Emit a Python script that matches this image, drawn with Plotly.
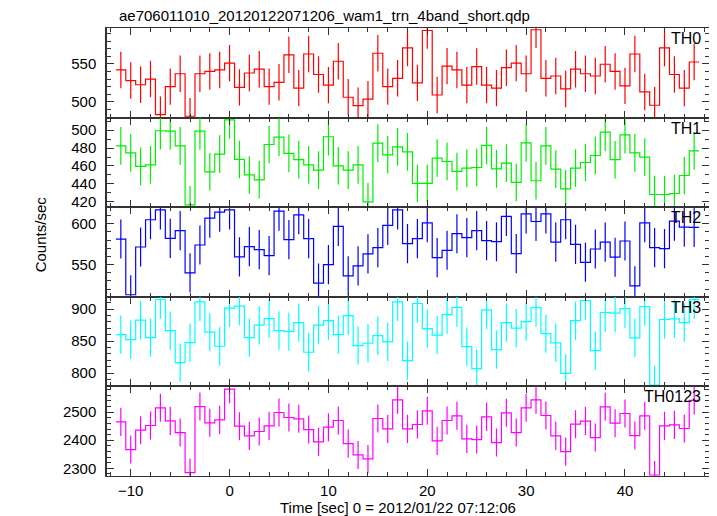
import plotly.graph_objects as go
from plotly.subplots import make_subplots

time = list(range(-11, 48))

th0 = [542, 528, 522.5, 530, 483, 520, 537, 481, 537, 540, 542, 551, 519, 538, 543, 520,
       525.7, 562, 518, 563, 536, 522, 553.5, 506, 495, 503.5, 564, 520,
       531, 571, 525, 594, 509, 547, 542, 522, 546.5, 522, 518, 545, 551, 537, 595,
       531, 534, 517, 543, 537, 534, 549.5, 540, 521, 563, 513, 495.5, 571, 536, 518, 552.5]
th1 = [482.5, 474.7, 459.5, 461.3, 499.3, 499, 482.5, 416.7, 499, 453.5, 473.2, 511.5, 467.3, 450,
       444.6, 484, 492.2, 474, 467, 461.3, 455.4, 492.6, 460.2, 455.4, 461.3, 420, 485.5, 472.5,
       481.4, 475.8, 440.5, 440.5, 468.8, 465, 453.9, 457.6, 458.3, 482.9, 456.8, 463.2, 441.6,
       485.9, 443.5, 482.5, 456.5, 434.5, 457.6, 463.9, 471.7, 497.8, 467, 494.8, 474.7, 469.9,
       428.2, 428.2, 429.3, 449.4, 476.9]
th2 = [581.3, 513, 571.5, 604.9, 617, 582.1, 591.5, 539.8, 574, 607, 614.2, 617, 559.4, 572,
       568.3, 561, 615.4, 580.5, 611, 581.7, 527.2, 550, 596.7, 536.2, 548.4, 563, 570.7, 598,
       617, 575.6, 581.7, 601.2, 558.5, 567.5, 587.8, 583, 591.5, 579.3, 578, 609, 563.4, 612.2,
       602.8, 612.2, 577.6, 604.9, 574.8, 552.8, 569.1, 577.6, 559, 578.9, 524, 601.2, 570.7,
       569.5, 603.3, 595.9, 595.5]
th3 = [860.2, 852.4, 882.7, 855.5, 915.2, 866.5, 816.2, 847.6, 911.5, 863.9, 841.9, 901.6, 904.7,
       855.5, 874.9, 885.3, 866.5, 864.9, 879, 832.5, 874.9, 882.2, 860.2, 890, 842.9, 846.6,
       858.6, 848.7, 911.5, 819.4, 908.9, 869.6, 859.2, 891.6, 902.6, 841.4, 806.8, 899, 836.6,
       879, 870.2, 880.6, 902.6, 861.8, 847.1, 799.5, 882.2, 913.6, 835.1, 894.8, 893.7, 901,
       855, 904.2, 781.1, 883.8, 884.8, 879, 915]
th0123 = [2465.5, 2366.7, 2435.7, 2452.4, 2515.5, 2469, 2427.4, 2284.5, 2520, 2462, 2472.6, 2582,
          2450, 2415.5, 2431, 2451.2, 2498.8, 2481, 2476.2, 2438, 2394, 2446.4, 2470.2, 2388,
          2347.6, 2333.3, 2477.4, 2440.5, 2544, 2440.5, 2456, 2504.8, 2397.6, 2470.2, 2487,
          2404.8, 2402.4, 2483.3, 2391.7, 2497.6, 2427.4, 2515.5, 2544, 2488.1, 2415.5, 2359.5,
          2457.1, 2467.9, 2409.5, 2519, 2460.7, 2495.2, 2416.7, 2487, 2276.2, 2451.2, 2454.8,
          2441.7, 2541.7]

errors = [24, 21, 24, 30, 50]
labels = ["TH0", "TH1", "TH2", "TH3", "TH0123"]
series = [th0, th1, th2, th3, th0123]
colors = ["#ff0000", "#00ee00", "#0000ff", "#00ffff", "#ff00ff"]
yranges = [[479.2, 597.3], [414, 514], [510.5, 620.3], [779, 919.4], [2272.6, 2591.7]]
ymajor = [50, 20, 50, 50, 100]
yminor = [10, 10, 10, 10, 20]

FONT = "Liberation Sans, Arial, Helvetica, sans-serif"
AX = "#333333"

# page body has an 8px margin, so the figure is sized to fit the 717x516 window
W, H = 709, 508
L, R, T, B = 99, 6, 20, 40
PW = W - L - R

fig = make_subplots(rows=5, cols=1, shared_xaxes=True, vertical_spacing=0)

edges = [t - 0.5 for t in time] + [time[-1] + 0.5]
for i, (vals, err, col) in enumerate(zip(series, errors, colors)):
    r = i + 1
    fig.add_trace(go.Scatter(x=edges, y=vals + [vals[-1]], mode="lines",
                             line=dict(shape="hv", color=col, width=1.2),
                             showlegend=False, hoverinfo="skip"), row=r, col=1)
    fig.add_trace(go.Scatter(x=time, y=vals, mode="markers",
                             marker=dict(size=1, color=col),
                             error_y=dict(type="constant", value=err, width=0,
                                          thickness=1.2, color=col),
                             showlegend=False), row=r, col=1)
    fig.update_yaxes(range=yranges[i], dtick=ymajor[i], tick0=0,
                     minor=dict(dtick=yminor[i], ticks="inside", ticklen=4,
                                tickcolor=AX, tickwidth=1),
                     row=r, col=1)
    yref = "y domain" if r == 1 else f"y{r} domain"
    fig.add_annotation(text=labels[i], xref="paper", x=1, xanchor="right", xshift=-6,
                       yref=yref, y=1, yanchor="top", yshift=0, showarrow=False,
                       font=dict(size=16, color="black", family=FONT))

fig.update_yaxes(ticks="inside", ticklen=7, tickwidth=1, tickcolor=AX,
                 showline=True, linecolor=AX, linewidth=1.5, mirror="ticks",
                 ticklabelstandoff=6,
                 showgrid=False, zeroline=False, tickfont=dict(size=15, family=FONT, color="black"))
fig.update_xaxes(range=[-12.4, 48.5], dtick=10, tick0=0,
                 minor=dict(dtick=2, ticks="inside", ticklen=4, tickcolor=AX, tickwidth=1),
                 ticks="inside", ticklen=7, tickwidth=1, tickcolor=AX,
                 showline=True, linecolor=AX, linewidth=1, mirror="ticks",
                 showgrid=False, zeroline=False, tickfont=dict(size=15, family=FONT, color="black"))
fig.update_xaxes(showticklabels=False)
fig.update_xaxes(showticklabels=True, ticklabelstandoff=1, row=5, col=1)

fig.add_annotation(text="ae706011010_20120122071206_wam1_trn_4band_short.qdp",
                   xref="paper", x=10 / PW, xanchor="left", yref="paper", y=1,
                   yanchor="bottom", yshift=2, showarrow=False,
                   font=dict(size=15, color="black", family=FONT))
fig.add_annotation(text="Time [sec] 0 = 2012/01/22 07:12:06",
                   xref="paper", x=(398.5 - 107) / PW, xanchor="center", yref="paper", y=0,
                   yanchor="top", yshift=-21, showarrow=False,
                   font=dict(size=15, color="black", family=FONT))
fig.add_annotation(text="Counts/sec", textangle=-90,
                   xref="paper", x=(40 - 107) / PW, xanchor="center", yref="paper", y=0.54,
                   yanchor="middle", showarrow=False,
                   font=dict(size=15, color="black", family=FONT))

fig.update_layout(width=W, height=H, margin=dict(l=L, r=R, t=T, b=B),
                  plot_bgcolor="white", paper_bgcolor="white", showlegend=False,
                  font=dict(family=FONT, color="black"))
fig.write_html("out.html")
